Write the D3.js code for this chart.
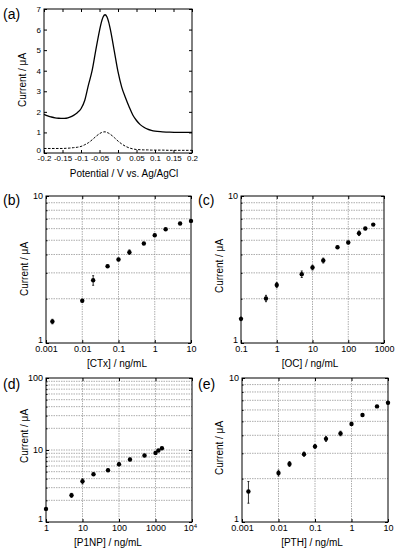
<!DOCTYPE html>
<html>
<head>
<meta charset="utf-8">
<script src="https://cdn.jsdelivr.net/npm/d3@7"></script>
<style>
  body { margin: 0; background: #fff; }
  text { font-family: "Liberation Sans", Arial, sans-serif; fill: #000; }
</style>
</head>
<body>
<svg id="chart" width="396" height="550"></svg>
<script>
// (a) voltammograms
var potential = [-0.2, -0.19, -0.18, -0.17, -0.16, -0.15, -0.14, -0.13, -0.12, -0.11, -0.1, -0.09, -0.08, -0.07, -0.06, -0.05, -0.045, -0.04, -0.035, -0.03, -0.025, -0.02, -0.01, 0, 0.01, 0.02, 0.03, 0.04, 0.05, 0.06, 0.07, 0.08, 0.09, 0.1, 0.12, 0.14, 0.16, 0.18, 0.2];
var currentSolid = [1.88, 1.80, 1.75, 1.71, 1.69, 1.68, 1.69, 1.74, 1.83, 1.96, 2.15, 2.55, 3.3, 4.0, 5.0, 5.95, 6.35, 6.62, 6.72, 6.62, 6.35, 5.95, 4.95, 3.95, 3.2, 2.7, 2.25, 1.85, 1.58, 1.38, 1.25, 1.16, 1.1, 1.06, 1.03, 1.01, 1.0, 1.0, 1.0];
var currentDashed = [0.22, 0.22, 0.22, 0.22, 0.22, 0.22, 0.23, 0.24, 0.26, 0.28, 0.32, 0.4, 0.5, 0.64, 0.8, 0.94, 0.99, 1.02, 1.03, 1.0, 0.96, 0.9, 0.75, 0.58, 0.44, 0.33, 0.25, 0.2, 0.17, 0.16, 0.15, 0.15, 0.14, 0.14, 0.14, 0.13, 0.13, 0.13, 0.13];

// (b) CTx
var ctxConc = [0.0015, 0.01, 0.02, 0.05, 0.1, 0.2, 0.5, 1, 2, 5, 10];
var ctxCurrent = [1.40, 1.94, 2.67, 3.33, 3.70, 4.15, 4.75, 5.41, 5.94, 6.50, 6.77];
var ctxErr = [0.05, 0.04, 0.2, 0.06, 0.07, 0.15, 0.06, 0.08, 0.06, 0.06, 0.06];

// (c) OC
var ocConc = [0.1, 0.5, 1, 5, 10, 20, 50, 100, 200, 300, 500];
var ocCurrent = [1.46, 2.01, 2.48, 2.94, 3.26, 3.64, 4.48, 4.83, 5.58, 6.01, 6.39];
var ocErr = [0.04, 0.1, 0.1, 0.15, 0.12, 0.14, 0.08, 0.1, 0.2, 0.1, 0.08];

// (d) P1NP
var p1npConc = [1, 5, 10, 20, 50, 100, 200, 500, 1000, 1200, 1500];
var p1npCurrent = [1.52, 2.35, 3.68, 4.61, 5.24, 6.35, 7.39, 8.4, 9.12, 9.86, 10.6];
var p1npErr = [0.05, 0.15, 0.3, 0.15, 0.2, 0.3, 0.3, 0.3, 0.4, 0.3, 0.3];

// (e) PTH
var pthConc = [0.0015, 0.01, 0.02, 0.05, 0.1, 0.2, 0.5, 1, 2, 5, 10];
var pthCurrent = [1.63, 2.19, 2.53, 2.96, 3.35, 3.78, 4.12, 4.79, 5.53, 6.35, 6.73];
var pthErr = [0.28, 0.1, 0.1, 0.1, 0.1, 0.15, 0.15, 0.1, 0.1, 0.1, 0.1];

var svg = d3.select("#chart");

// ---------- panel (a)
var xa = d3.scaleLinear().domain([-0.2, 0.2]).range([44, 192]);
var ya = d3.scaleLinear().domain([0, 7]).range([153, 9]);
var ga = svg.append("g");

var fmtA = d => d === 0 ? "0" : String(+d.toFixed(2));
var xTicksA = d3.range(-0.2, 0.2001, 0.05).map(d => +d.toFixed(2));

ga.append("g").attr("transform", "translate(0,153)")
    .call(d3.axisBottom(xa).tickValues(xTicksA).tickFormat(fmtA).tickSizeInner(-3).tickSizeOuter(0).tickPadding(2))
    .call(g => g.select(".domain").remove())
    .selectAll("text").style("font-size", "8px");
ga.append("g").attr("transform", "translate(0,9)")
    .call(d3.axisTop(xa).tickValues(xTicksA).tickFormat("").tickSizeInner(-3).tickSizeOuter(0))
    .call(g => g.select(".domain").remove());
ga.append("g").attr("transform", "translate(44,0)")
    .call(d3.axisLeft(ya).ticks(7).tickSizeInner(-3).tickSizeOuter(0).tickPadding(3))
    .call(g => g.select(".domain").remove())
    .selectAll("text").style("font-size", "8px")
    .filter(d => d === 0).attr("dy", "-0.05em");
ga.append("g").attr("transform", "translate(192,0)")
    .call(d3.axisRight(ya).ticks(7).tickFormat("").tickSizeInner(-3).tickSizeOuter(0))
    .call(g => g.select(".domain").remove());

var lineA = d3.line().x(d => xa(d[0])).y(d => ya(d[1])).curve(d3.curveMonotoneX);
ga.append("path").datum(potential.map((p, i) => [p, currentSolid[i]]))
    .attr("d", lineA).attr("fill", "none").attr("stroke", "#000").attr("stroke-width", 1.3);
ga.append("path").datum(potential.map((p, i) => [p, currentDashed[i]]))
    .attr("d", lineA).attr("fill", "none").attr("stroke", "#000").attr("stroke-width", 1)
    .attr("stroke-dasharray", "2.5,1.5");

ga.append("rect").attr("x", 44).attr("y", 9).attr("width", 148).attr("height", 144)
    .attr("fill", "none").attr("stroke", "#000").attr("stroke-width", 1);

ga.append("text").attr("x", 124).attr("y", 177).attr("text-anchor", "middle")
    .style("font-size", "10px").text("Potential / V vs. Ag/AgCl");
ga.append("text").attr("transform", "translate(26,80) rotate(-90)").attr("text-anchor", "middle")
    .style("font-size", "10px").text("Current / μA");
svg.append("text").attr("x", 3).attr("y", 19).style("font-size", "14px").text("(a)");

// ---------- log panels
function logPanel(cfg) {
    var x = d3.scaleLog().domain(cfg.xdom).range([cfg.x0, cfg.x1]);
    var y = d3.scaleLog().domain(cfg.ydom).range([cfg.y1, cfg.y0]);
    var g = svg.append("g");

    var xDec = [], yDec = [], yMinor = [];
    for (var v = cfg.xdom[0]; v <= cfg.xdom[1] * 1.001; v *= 10) xDec.push(+v.toPrecision(3));
    for (var w = cfg.ydom[0]; w <= cfg.ydom[1] * 1.001; w *= 10) {
        yDec.push(+w.toPrecision(3));
        if (w < cfg.ydom[1] * 0.999) for (var m = 2; m <= 9; m++) yMinor.push(+(w * m).toPrecision(3));
    }

    // grid
    g.append("g").selectAll("line").data(yMinor.concat(yDec.slice(1, -1))).enter().append("line")
        .attr("x1", cfg.x0).attr("x2", cfg.x1).attr("y1", d => y(d)).attr("y2", d => y(d))
        .attr("stroke", "#8a8a8a").attr("stroke-width", 0.7).attr("stroke-dasharray", "1.5,1");
    g.append("g").selectAll("line").data(xDec.slice(1, -1)).enter().append("line")
        .attr("y1", cfg.y0).attr("y2", cfg.y1).attr("x1", d => x(d)).attr("x2", d => x(d))
        .attr("stroke", "#8a8a8a").attr("stroke-width", 0.7).attr("stroke-dasharray", "1.5,1");

    // axes
    var bx = g.append("g").attr("transform", "translate(0," + cfg.y1 + ")")
        .call(d3.axisBottom(x).tickValues(xDec).tickFormat(d3.format("~g")).tickSizeInner(-3).tickSizeOuter(0).tickPadding(3))
        .call(s => s.select(".domain").remove());
    bx.selectAll("text").style("font-size", "9px");
    if (cfg.supLast) {
        var last = bx.selectAll(".tick text").filter((d, i, n) => i === n.length - 1);
        last.text("10").attr("dx", "-2").append("tspan").attr("dy", "-3").style("font-size", "6px").text(cfg.supLast);
    }
    g.append("g").attr("transform", "translate(0," + cfg.y0 + ")")
        .call(d3.axisTop(x).tickValues(xDec).tickFormat("").tickSizeInner(-3).tickSizeOuter(0))
        .call(s => s.select(".domain").remove());
    g.append("g").attr("transform", "translate(" + cfg.x0 + ",0)")
        .call(d3.axisLeft(y).tickValues(yDec).tickFormat(d3.format("~g")).tickSizeInner(-3).tickSizeOuter(0).tickPadding(3))
        .call(s => s.select(".domain").remove())
        .selectAll("text").style("font-size", "9px")
        .filter(d => d === cfg.ydom[0]).attr("dy", "-0.1em");
    g.append("g").attr("transform", "translate(" + cfg.x0 + ",0)")
        .call(d3.axisLeft(y).tickValues(yMinor).tickFormat("").tickSizeInner(-1.5).tickSizeOuter(0))
        .call(s => s.select(".domain").remove());
    g.append("g").attr("transform", "translate(" + cfg.x1 + ",0)")
        .call(d3.axisRight(y).tickValues(yDec).tickFormat("").tickSizeInner(-3).tickSizeOuter(0))
        .call(s => s.select(".domain").remove());

    // error bars and points
    var pts = cfg.xs.map((c, i) => ({ c: c, v: cfg.ys[i], e: cfg.err[i] }));
    var eb = g.append("g").attr("stroke", "#000").attr("stroke-width", 0.8);
    eb.selectAll("line.bar").data(pts).enter().append("line").attr("class", "bar")
        .attr("x1", d => x(d.c)).attr("x2", d => x(d.c))
        .attr("y1", d => y(d.v + d.e)).attr("y2", d => y(d.v - d.e));
    eb.selectAll("line.cap1").data(pts).enter().append("line").attr("class", "cap1")
        .attr("x1", d => x(d.c) - 1).attr("x2", d => x(d.c) + 1)
        .attr("y1", d => y(d.v + d.e)).attr("y2", d => y(d.v + d.e));
    eb.selectAll("line.cap2").data(pts).enter().append("line").attr("class", "cap2")
        .attr("x1", d => x(d.c) - 1).attr("x2", d => x(d.c) + 1)
        .attr("y1", d => y(d.v - d.e)).attr("y2", d => y(d.v - d.e));
    g.append("g").selectAll("circle").data(pts).enter().append("circle")
        .attr("cx", d => x(d.c)).attr("cy", d => y(d.v)).attr("r", 2.2).attr("fill", "#000");

    g.append("rect").attr("x", cfg.x0).attr("y", cfg.y0)
        .attr("width", cfg.x1 - cfg.x0).attr("height", cfg.y1 - cfg.y0)
        .attr("fill", "none").attr("stroke", "#000").attr("stroke-width", 1);

    g.append("text").attr("x", cfg.xlx).attr("y", cfg.y1 + 24).attr("text-anchor", "middle")
        .style("font-size", "10px").text(cfg.xlabel);
    g.append("text").attr("transform", "translate(" + cfg.ylx + "," + cfg.yly + ") rotate(-90)")
        .attr("text-anchor", "middle").style("font-size", "10px").text("Current / μA");
    svg.append("text").attr("x", cfg.lx).attr("y", cfg.ly).style("font-size", "14px").text(cfg.tag);
}

logPanel({ tag: "(b)", lx: 3, ly: 205, x0: 46, x1: 191, y0: 196, y1: 343,
    xdom: [0.001, 10], ydom: [1, 10], xs: ctxConc, ys: ctxCurrent, err: ctxErr,
    xlabel: "[CTx] / ng/mL", xlx: 117, ylx: 28, yly: 269 });
logPanel({ tag: "(c)", lx: 198, ly: 205, x0: 241, x1: 384, y0: 196, y1: 343,
    xdom: [0.1, 1000], ydom: [1, 10], xs: ocConc, ys: ocCurrent, err: ocErr,
    xlabel: "[OC] / ng/mL", xlx: 310, ylx: 223, yly: 266 });
logPanel({ tag: "(d)", lx: 3, ly: 389, x0: 46, x1: 192, y0: 378, y1: 522,
    xdom: [1, 10000], ydom: [1, 100], xs: p1npConc, ys: p1npCurrent, err: p1npErr, supLast: "4",
    xlabel: "[P1NP] / ng/mL", xlx: 108, ylx: 28, yly: 436 });
logPanel({ tag: "(e)", lx: 198, ly: 389, x0: 242, x1: 388, y0: 378, y1: 522,
    xdom: [0.001, 10], ydom: [1, 10], xs: pthConc, ys: pthCurrent, err: pthErr,
    xlabel: "[PTH] / ng/mL", xlx: 312, ylx: 223, yly: 448 });
</script>
</body>
</html>
